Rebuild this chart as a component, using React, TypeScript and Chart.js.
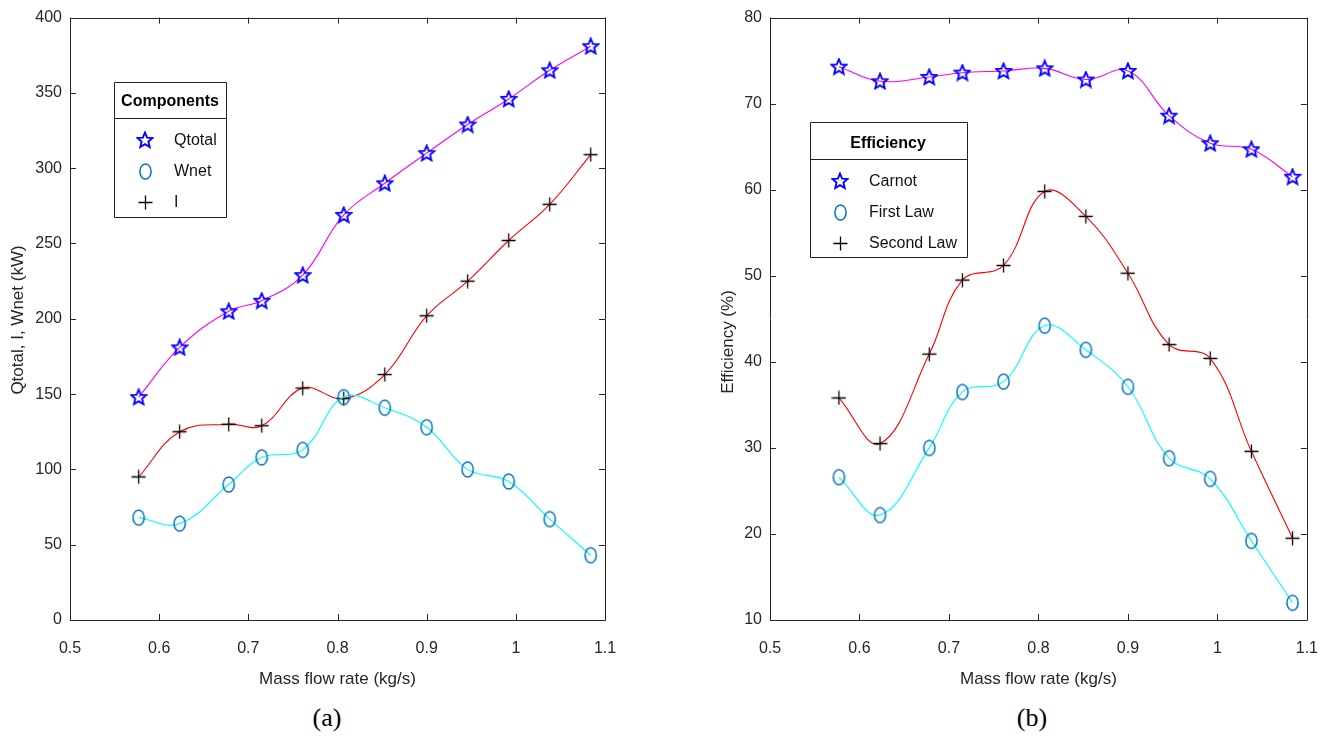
import React, { useEffect, useRef } from "react";
import { Chart, registerables } from "chart.js";

Chart.register(...registerables);

// Shared abscissa: mass flow rate (kg/s)
const massFlow = [0.577, 0.623, 0.678, 0.715, 0.761, 0.807, 0.853, 0.9, 0.946, 0.992, 1.038, 1.084];

// Panel (a): energy components (kW)
const qTotal = [148, 181, 205, 212, 229, 269, 290, 310, 329, 346, 365, 381];
const wNet = [68, 64, 90, 108, 113, 148, 141, 128, 100, 92, 67, 43];
const irreversibility = [95, 125, 130, 129, 154, 147, 163, 202, 225, 252, 276, 309];

// Panel (b): efficiencies (%)
const carnotEff = [74.3, 72.6, 73.1, 73.6, 73.8, 74.1, 72.8, 73.8, 68.6, 65.4, 64.7, 61.5];
const firstLawEff = [26.6, 22.2, 30.0, 36.5, 37.7, 44.2, 41.4, 37.1, 28.8, 26.4, 19.2, 12.0];
const secondLawEff = [35.8, 30.5, 40.9, 49.5, 51.2, 59.8, 56.9, 50.3, 42.0, 40.4, 29.6, 19.5];

// Tick values
const xTickValues = [0.5, 0.6, 0.7, 0.8, 0.9, 1.0, 1.1];
const yTicksA = [0, 50, 100, 150, 200, 250, 300, 350, 400];
const yTicksB = [10, 20, 30, 40, 50, 60, 70, 80];

const labelsA = ["Qtotal", "Wnet", "I"];
const labelsB = ["Carnot", "First Law", "Second Law"];

const SANS = "'Liberation Sans', Arial, Helvetica, sans-serif";
const INK = "#262626";

type Markers = { star: HTMLCanvasElement; ring: HTMLCanvasElement; plus: HTMLCanvasElement };

function makeMarkers(): Markers {
  const star = document.createElement("canvas");
  star.width = 18;
  star.height = 18;
  {
    const c = star.getContext("2d")!;
    const cx = 9, cy = 9.5, R = 8, r = R * 0.45;
    c.beginPath();
    for (let i = 0; i < 10; i++) {
      const a = -Math.PI / 2 + (i * Math.PI) / 5;
      const rr = i % 2 ? r : R;
      c.lineTo(cx + rr * Math.cos(a), cy + rr * Math.sin(a));
    }
    c.closePath();
    c.strokeStyle = "#0000ff";
    c.lineWidth = 1.9;
    c.stroke();
  }
  const ring = document.createElement("canvas");
  ring.width = 15;
  ring.height = 19;
  {
    const c = ring.getContext("2d")!;
    c.beginPath();
    c.ellipse(7.5, 9.5, 5.6, 7.6, 0, 0, Math.PI * 2);
    c.strokeStyle = "#0072bd";
    c.lineWidth = 1.5;
    c.stroke();
  }
  const plus = document.createElement("canvas");
  plus.width = 15;
  plus.height = 15;
  {
    const c = plus.getContext("2d")!;
    c.beginPath();
    c.moveTo(7.5, 0.5);
    c.lineTo(7.5, 14.5);
    c.moveTo(0.5, 7.5);
    c.lineTo(14.5, 7.5);
    c.strokeStyle = "#000";
    c.lineWidth = 1.3;
    c.stroke();
  }
  return { star, ring, plus };
}

type LegendSpec = {
  title: string;
  labels: string[];
  box: [number, number, number, number]; // left, top, right, bottom
  sepY: number;
  titleX: number;
  titleY: number;
  markerX: number;
  textX: number;
  rowY: number[];
};

type YTitleSpec = { text: string; x: number; y: number };

function framePlugin(legend: LegendSpec, yTitle: YTitleSpec, markers: Markers) {
  return {
    id: "frameAndLegend",
    afterDraw(chart: any) {
      const { ctx, chartArea } = chart;
      const { left, right, top, bottom } = chartArea;
      const xs = chart.scales.x;
      const ys = chart.scales.y;
      const tick = 6;
      ctx.save();
      ctx.strokeStyle = INK;
      ctx.lineWidth = 1;
      ctx.beginPath();
      ctx.rect(Math.round(left) + 0.5, Math.round(top) + 0.5, Math.round(right - left), Math.round(bottom - top));
      ctx.stroke();
      ctx.beginPath();
      xs.ticks.forEach((t: any) => {
        const p = Math.round(xs.getPixelForValue(t.value)) + 0.5;
        ctx.moveTo(p, bottom);
        ctx.lineTo(p, bottom - tick);
        ctx.moveTo(p, top);
        ctx.lineTo(p, top + tick);
      });
      ys.ticks.forEach((t: any) => {
        const p = Math.round(ys.getPixelForValue(t.value)) + 0.5;
        ctx.moveTo(left, p);
        ctx.lineTo(left + tick, p);
        ctx.moveTo(right, p);
        ctx.lineTo(right - tick, p);
      });
      ctx.stroke();

      // vertical axis title
      ctx.save();
      ctx.translate(yTitle.x, yTitle.y);
      ctx.rotate(-Math.PI / 2);
      ctx.fillStyle = INK;
      ctx.font = `17px ${SANS}`;
      ctx.textAlign = "center";
      ctx.textBaseline = "middle";
      ctx.fillText(yTitle.text, 0, 0);
      ctx.restore();

      // legend box
      const [bl, bt, br, bb] = legend.box;
      ctx.fillStyle = "#ffffff";
      ctx.fillRect(bl, bt, br - bl, bb - bt);
      ctx.strokeStyle = "#222";
      ctx.beginPath();
      ctx.rect(bl + 0.5, bt + 0.5, br - bl, bb - bt);
      ctx.moveTo(bl, legend.sepY + 0.5);
      ctx.lineTo(br, legend.sepY + 0.5);
      ctx.stroke();
      ctx.fillStyle = "#000";
      ctx.textBaseline = "middle";
      ctx.textAlign = "center";
      ctx.font = `bold 16px ${SANS}`;
      ctx.fillText(legend.title, legend.titleX, legend.titleY);
      ctx.textAlign = "left";
      ctx.font = `16px ${SANS}`;
      const imgs = [markers.star, markers.ring, markers.plus];
      legend.labels.forEach((lab, i) => {
        const img = imgs[i];
        const y = legend.rowY[i];
        ctx.drawImage(img, Math.round(legend.markerX - img.width / 2), Math.round(y - img.height / 2));
        ctx.fillStyle = "#111";
        ctx.fillText(lab, legend.textX, y + 1);
      });
      ctx.restore();
    },
  };
}

function seriesDataset(label: string, values: number[], lineColor: string, marker: HTMLCanvasElement) {
  return {
    label,
    data: massFlow.map((x, i) => ({ x, y: values[i] })),
    showLine: true,
    borderColor: lineColor,
    borderWidth: 1.1,
    tension: 0.4,
    fill: false,
    pointStyle: marker,
    pointRadius: 8,
    pointHoverRadius: 8,
    pointBackgroundColor: "transparent",
    pointBorderColor: "transparent",
  };
}

function fmtTick(v: number) {
  return String(Number(v.toFixed(2)));
}

type PanelProps = {
  width: number;
  height: number;
  yTicks: number[];
  yTitle: YTitleSpec;
  yAxisWidth: number;
  padRight: number;
  padTop: number;
  series: { label: string; values: number[]; color: string; marker: keyof Markers }[];
  legend: LegendSpec;
};

function Panel(props: PanelProps) {
  const ref = useRef<HTMLCanvasElement | null>(null);
  useEffect(() => {
    if (!ref.current) return;
    const markers = makeMarkers();
    const tickFont = { family: SANS, size: 16 };
    const chart = new Chart(ref.current, {
      type: "scatter",
      data: {
        datasets: props.series.map((s) => seriesDataset(s.label, s.values, s.color, markers[s.marker])) as any,
      },
      options: {
        responsive: false,
        animation: false,
        devicePixelRatio: 1,
        layout: { padding: { left: 0, right: props.padRight, top: props.padTop, bottom: 0 } },
        plugins: { legend: { display: false }, tooltip: { enabled: false } },
        events: [],
        scales: {
          x: {
            type: "linear",
            min: xTickValues[0],
            max: xTickValues[xTickValues.length - 1],
            afterBuildTicks: (s: any) => {
              s.ticks = xTickValues.map((v) => ({ value: v }));
            },
            afterFit: (s: any) => {
              s.height = 80;
            },
            grid: { display: false, drawTicks: false },
            border: { display: false },
            ticks: {
              padding: 19,
              color: INK,
              font: tickFont,
              maxRotation: 0,
              autoSkip: false,
              callback: (v: any) => fmtTick(Number(v)),
            },
            title: {
              display: true,
              text: "Mass flow rate (kg/s)",
              color: INK,
              font: { family: SANS, size: 17 },
              padding: { top: 0, bottom: 10 },
            },
          },
          y: {
            type: "linear",
            min: props.yTicks[0],
            max: props.yTicks[props.yTicks.length - 1],
            afterBuildTicks: (s: any) => {
              s.ticks = props.yTicks.map((v) => ({ value: v }));
            },
            afterFit: (s: any) => {
              s.width = props.yAxisWidth;
            },
            grid: { display: false, drawTicks: false },
            border: { display: false },
            ticks: {
              padding: 8,
              color: INK,
              font: tickFont,
              autoSkip: false,
              callback: (v: any) => fmtTick(Number(v)),
            },
            title: { display: false },
          },
        },
      } as any,
      plugins: [framePlugin(props.legend, props.yTitle, markers)],
    });
    return () => chart.destroy();
  }, []);
  return <canvas ref={ref} width={props.width} height={props.height} style={{ display: "block" }} />;
}

const captionStyle: React.CSSProperties = {
  position: "absolute",
  width: 100,
  top: 702,
  textAlign: "center",
  fontFamily: "'Liberation Serif', 'Times New Roman', serif",
  fontSize: 26,
  lineHeight: "32px",
  color: "#000",
};

export default function App() {
  return (
    <div
      style={{
        position: "fixed",
        left: 0,
        top: 0,
        width: 1337,
        height: 738,
        background: "#ffffff",
        overflow: "hidden",
      }}
    >
      <div style={{ position: "absolute", left: 0, top: 0 }}>
        <Panel
          width={668}
          height={700}
          yTicks={yTicksA}
          yTitle={{ text: "Qtotal, I, Wnet (kW)", x: 18, y: 320 }}
          yAxisWidth={70}
          padRight={63}
          padTop={14}
          series={[
            { label: labelsA[0], values: qTotal, color: "#ff00ff", marker: "star" },
            { label: labelsA[1], values: wNet, color: "#00ffff", marker: "ring" },
            { label: labelsA[2], values: irreversibility, color: "#ff0000", marker: "plus" },
          ]}
          legend={{
            title: "Components",
            labels: labelsA,
            box: [114, 82, 226, 217],
            sepY: 118,
            titleX: 170,
            titleY: 102,
            markerX: 145,
            textX: 174,
            rowY: [140, 171, 202],
          }}
        />
      </div>
      <div style={{ position: "absolute", left: 668, top: 0 }}>
        <Panel
          width={669}
          height={700}
          yTicks={yTicksB}
          yTitle={{ text: "Efficiency (%)", x: 60, y: 342 }}
          yAxisWidth={102}
          padRight={24}
          padTop={17}
          series={[
            { label: labelsB[0], values: carnotEff, color: "#ff00ff", marker: "star" },
            { label: labelsB[1], values: firstLawEff, color: "#00ffff", marker: "ring" },
            { label: labelsB[2], values: secondLawEff, color: "#ff0000", marker: "plus" },
          ]}
          legend={{
            title: "Efficiency",
            labels: labelsB,
            box: [142, 122, 299, 257],
            sepY: 159,
            titleX: 220,
            titleY: 144,
            markerX: 172,
            textX: 201,
            rowY: [181, 212, 243],
          }}
        />
      </div>
      <div style={{ ...captionStyle, left: 277 }}>(a)</div>
      <div style={{ ...captionStyle, left: 982 }}>(b)</div>
    </div>
  );
}
